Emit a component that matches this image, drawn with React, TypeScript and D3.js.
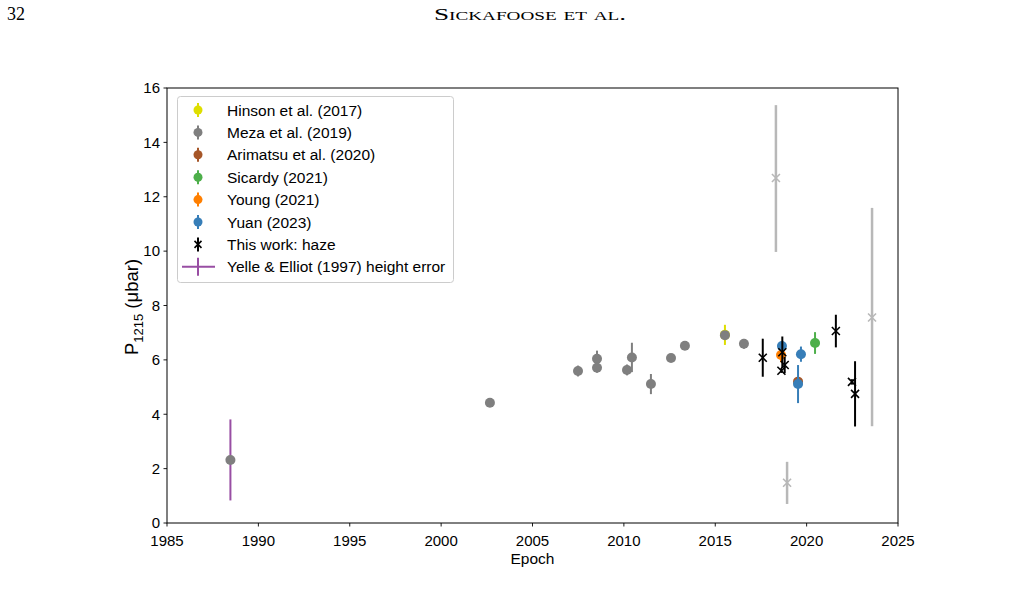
import React from "react";
import * as d3 from "d3";

// Surface pressure at 1215 km vs. epoch, compiled from published occultation results
const hinsonEpoch = [2015.53];
const hinsonP = [6.92];
const hinsonErr = [0.37];

const mezaEpoch = [1988.47, 2002.67, 2007.49, 2008.53, 2008.53, 2010.17, 2010.44, 2011.48, 2012.58, 2013.34, 2015.53, 2016.57];
const mezaP = [2.32, 4.42, 5.59, 6.04, 5.71, 5.63, 6.09, 5.11, 6.07, 6.52, 6.91, 6.59];
const mezaErr = [0, 0.08, 0.2, 0.3, 0.18, 0.2, 0.54, 0.37, 0.08, 0.08, 0.1, 0.18];

const arimatsuEpoch = [2019.53];
const arimatsuP = [5.2];
const arimatsuErr = [0.12];

const sicardyEpoch = [2020.46];
const sicardyP = [6.62];
const sicardyErr = [0.4];

const youngEpoch = [2018.6];
const youngP = [6.18];
const youngErr = [0.27];

const yuanEpoch = [2018.65, 2019.53, 2019.69];
const yuanP = [6.51, 5.11, 6.21];
const yuanErr = [0.1, 0.7, 0.28];

// Haze results from this work (retained)
const hazeEpoch = [2017.6, 2018.67, 2018.8, 2018.62, 2021.6, 2022.48, 2022.65];
const hazeP = [6.08, 6.28, 5.81, 5.6, 7.06, 5.19, 4.75];
const hazeErr = [0.7, 0.58, 0.3, 0.08, 0.6, 0.1, 1.2];

// Haze results from this work (not used in the trend)
const hazeGreyEpoch = [2018.32, 2018.93, 2023.58];
const hazeGreyP = [12.69, 1.48, 7.56];
const hazeGreyErrLo = [2.72, 0.78, 4.0];
const hazeGreyErrHi = [2.68, 0.77, 4.03];

// Reference height uncertainty applied to the 1988 point
const yelleEpoch = [1988.47];
const yelleP = [2.32];
const yelleErr = [1.49];

const xTicks = [1985, 1990, 1995, 2000, 2005, 2010, 2015, 2020, 2025];
const yTicks = [0, 2, 4, 6, 8, 10, 12, 14, 16];

const legendLabels = [
  "Hinson et al. (2017)",
  "Meza et al. (2019)",
  "Arimatsu et al. (2020)",
  "Sicardy (2021)",
  "Young (2021)",
  "Yuan (2023)",
  "This work: haze",
  "Yelle & Elliot (1997) height error",
];

const C = {
  yellow: "#dede00",
  grey: "#7f7f7f",
  brown: "#a65628",
  green: "#4daf4a",
  orange: "#ff7f00",
  blue: "#377eb8",
  black: "#000000",
  purple: "#984ea3",
  lightGrey: "#b8b8b8",
};

const W = 1024;
const H = 605;
const M = { left: 167, right: 898, top: 88, bottom: 523 };
const FONT = "'Liberation Sans', Arial, sans-serif";
const SERIF = "'Liberation Serif', 'DejaVu Serif', serif";

const x = d3.scaleLinear().domain([1985, 2025]).range([M.left, M.right]);
const y = d3.scaleLinear().domain([0, 16]).range([M.bottom, M.top]);

type Series = { epoch: number[]; p: number[]; err: number[]; color: string };

function ErrCircles({ epoch, p, err, color }: Series) {
  return (
    <g>
      {epoch.map((e, i) => (
        <g key={i}>
          {err[i] > 0 && (
            <line x1={x(e)} x2={x(e)} y1={y(p[i] - err[i])} y2={y(p[i] + err[i])} stroke={color} strokeWidth={2} />
          )}
          <circle cx={x(e)} cy={y(p[i])} r={5} fill={color} />
        </g>
      ))}
    </g>
  );
}

function XMark({ cx, cy, color, s = 4, w = 1.6 }: { cx: number; cy: number; color: string; s?: number; w?: number }) {
  return (
    <path d={`M${cx - s},${cy - s}L${cx + s},${cy + s}M${cx - s},${cy + s}L${cx + s},${cy - s}`} stroke={color} strokeWidth={w} fill="none" />
  );
}

export default function App() {
  const legendColors = [C.yellow, C.grey, C.brown, C.green, C.orange, C.blue];
  const legX = 198;
  const legY0 = 110;
  const legDy = 22.4;

  return (
    <div style={{ position: "absolute", left: 0, top: 0 }}>
      <svg width={W} height={H} style={{ display: "block", background: "#fff" }}>
        {/* page header */}
        <text x={7} y={20} fontFamily={SERIF} fontSize={18} textLength={18} lengthAdjust="spacingAndGlyphs">32</text>
        <text x={530} y={20} textAnchor="middle" fontFamily={SERIF} fontSize={17}
          style={{ fontVariant: "small-caps" }} textLength={192} lengthAdjust="spacingAndGlyphs">Sickafoose et al.</text>

        {/* Yelle & Elliot height error */}
        {yelleEpoch.map((e, i) => (
          <line key={i} x1={x(e)} x2={x(e)} y1={y(yelleP[i] - yelleErr[i])} y2={y(yelleP[i] + yelleErr[i])} stroke={C.purple} strokeWidth={2} />
        ))}

        <ErrCircles epoch={hinsonEpoch} p={hinsonP} err={hinsonErr} color={C.yellow} />
        <ErrCircles epoch={mezaEpoch} p={mezaP} err={mezaErr} color={C.grey} />
        <ErrCircles epoch={arimatsuEpoch} p={arimatsuP} err={arimatsuErr} color={C.brown} />
        <ErrCircles epoch={sicardyEpoch} p={sicardyP} err={sicardyErr} color={C.green} />
        <ErrCircles epoch={youngEpoch} p={youngP} err={youngErr} color={C.orange} />
        <ErrCircles epoch={yuanEpoch} p={yuanP} err={yuanErr} color={C.blue} />

        {/* haze, this work */}
        {hazeEpoch.map((e, i) => (
          <g key={i}>
            <line x1={x(e)} x2={x(e)} y1={y(hazeP[i] - hazeErr[i])} y2={y(hazeP[i] + hazeErr[i])} stroke={C.black} strokeWidth={2} />
            <XMark cx={x(e)} cy={y(hazeP[i])} color={C.black} />
          </g>
        ))}
        {hazeGreyEpoch.map((e, i) => (
          <g key={i}>
            <line x1={x(e)} x2={x(e)} y1={y(hazeGreyP[i] - hazeGreyErrLo[i])} y2={y(hazeGreyP[i] + hazeGreyErrHi[i])} stroke={C.lightGrey} strokeWidth={2.5} />
            <XMark cx={x(e)} cy={y(hazeGreyP[i])} color={C.lightGrey} />
          </g>
        ))}

        {/* frame */}
        <rect x={M.left} y={M.top} width={M.right - M.left} height={M.bottom - M.top} fill="none" stroke="#000" strokeWidth={1} />

        {/* x axis */}
        {xTicks.map((t) => (
          <g key={t}>
            <line x1={x(t)} x2={x(t)} y1={M.bottom} y2={M.bottom + 3.5} stroke="#000" strokeWidth={0.9} />
            <text x={x(t)} y={546} textAnchor="middle" fontFamily={FONT} fontSize={15}>{t}</text>
          </g>
        ))}
        <text x={(M.left + M.right) / 2} y={564} textAnchor="middle" fontFamily={FONT} fontSize={15.5}>Epoch</text>

        {/* y axis */}
        {yTicks.map((t) => (
          <g key={t}>
            <line x1={M.left - 3.5} x2={M.left} y1={y(t)} y2={y(t)} stroke="#000" strokeWidth={0.9} />
            <text x={M.left - 7} y={y(t) + 5.3} textAnchor="end" fontFamily={FONT} fontSize={15}>{t}</text>
          </g>
        ))}
        <text transform={`translate(138,307) rotate(-90)`} textAnchor="middle" fontFamily={FONT} fontSize={18.5}>
          <tspan>P</tspan>
          <tspan fontSize={13} dy={5}>1215</tspan>
          <tspan dy={-5}> (μbar)</tspan>
        </text>

        {/* legend */}
        <rect x={177.5} y={96.5} width={276} height={186} rx={3} fill="#fff" fillOpacity={0.8} stroke="#cccccc" strokeWidth={1} />
        {legendLabels.map((lab, i) => {
          const cy = legY0 + i * legDy;
          let marker: React.ReactNode;
          if (i < 6) {
            marker = (
              <g>
                <line x1={legX} x2={legX} y1={cy - 7} y2={cy + 7} stroke={legendColors[i]} strokeWidth={2} />
                <circle cx={legX} cy={cy} r={4.5} fill={legendColors[i]} />
              </g>
            );
          } else if (i === 6) {
            marker = (
              <g>
                <line x1={legX} x2={legX} y1={cy - 7} y2={cy + 7} stroke={C.black} strokeWidth={2} />
                <XMark cx={legX} cy={cy} color={C.black} s={3.5} />
              </g>
            );
          } else {
            marker = (
              <g>
                <line x1={182} x2={215} y1={cy} y2={cy} stroke={C.purple} strokeWidth={2} />
                <line x1={legX} x2={legX} y1={cy - 9} y2={cy + 9} stroke={C.purple} strokeWidth={2} />
              </g>
            );
          }
          return (
            <g key={lab}>
              {marker}
              <text x={227} y={cy + 5.5} fontFamily={FONT} fontSize={15.5}>{lab}</text>
            </g>
          );
        })}
      </svg>
    </div>
  );
}
